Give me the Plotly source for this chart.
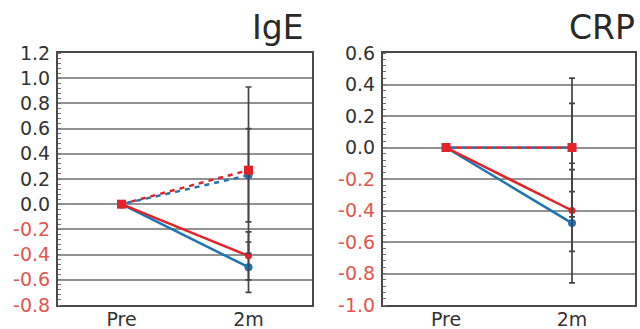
import plotly.graph_objects as go

categories = ["Pre", "2m"]

# IgE panel
ige_solid_red = [0.0, -0.41]
ige_solid_red_err = [None, 0.19]
ige_solid_blue = [0.0, -0.50]
ige_solid_blue_err = [None, 0.20]
ige_dash_red = [0.0, 0.27]
ige_dash_red_err = [None, 0.66]
ige_dash_blue = [0.0, 0.23]
ige_dash_blue_err = [None, 0.37]
ige_ticks = [1.2, 1.0, 0.8, 0.6, 0.4, 0.2, 0.0, -0.2, -0.4, -0.6, -0.8]

# CRP panel
crp_solid_red = [0.0, -0.40]
crp_solid_red_err = [None, 0.26]
crp_solid_blue = [0.0, -0.48]
crp_solid_blue_err = [None, 0.38]
crp_dash_red = [0.0, 0.0]
crp_dash_red_err = [None, 0.44]
crp_dash_blue = [0.0, 0.0]
crp_dash_blue_err = [None, 0.28]
crp_ticks = [0.6, 0.4, 0.2, 0.0, -0.2, -0.4, -0.6, -0.8, -1.0]

RED = "#e2232a"
BLUE = "#1f74b3"
GRAY_TXT = "#333333"
NEG_TXT = "#e3564f"
GRID = "#929292"
FRAME = "#4a4a4a"
FONT = "DejaVu Sans, Liberation Sans, Arial"

fig = go.Figure()


def add_series(y, err, color, dash, symbol, size, xa, ya):
    fig.add_trace(go.Scatter(
        x=categories, y=y, mode="lines+markers",
        line=dict(color=color, width=2.5, dash=dash),
        marker=dict(color=color, symbol=symbol, size=size),
        error_y=dict(type="data", array=err, visible=True, color="#444444",
                     thickness=1.7, width=3),
        xaxis=xa, yaxis=ya, showlegend=False, cliponaxis=False,
    ))


for (sb, sbe, db, dbe, sr, sre, dr, dre, xa, ya) in [
    (ige_solid_blue, ige_solid_blue_err, ige_dash_blue, ige_dash_blue_err,
     ige_solid_red, ige_solid_red_err, ige_dash_red, ige_dash_red_err, "x", "y"),
    (crp_solid_blue, crp_solid_blue_err, crp_dash_blue, crp_dash_blue_err,
     crp_solid_red, crp_solid_red_err, crp_dash_red, crp_dash_red_err, "x2", "y2"),
]:
    add_series(sb, sbe, BLUE, "solid", "circle", 8, xa, ya)
    add_series(db, dbe, BLUE, "0px,5px,5px,0px", "circle", 8, xa, ya)
    add_series(sr, sre, RED, "solid", "circle", 7, xa, ya)
    add_series(dr, dre, RED, "5px,5px", "square", 9, xa, ya)


def ticktext(vals):
    out = []
    for v in vals:
        s = f"{v:.1f}"
        if v < 0:
            out.append(f'<span style="color:{NEG_TXT}">{s}</span>')
        else:
            out.append(s)
    return out


def yaxis(vals, rng, domain, anchor):
    return dict(
        range=rng, domain=domain, anchor=anchor, tickmode="array", tickvals=vals,
        ticktext=ticktext(vals), showgrid=True, gridcolor=GRID, gridwidth=2,
        zeroline=False, showline=True, linecolor=FRAME, linewidth=2, mirror=True,
        ticks="", automargin=False, ticklabelstandoff=2,
        tickfont=dict(family=FONT, size=19, color=GRAY_TXT),
        minor=dict(ticks="inside", dtick=0.04, tick0=0, ticklen=3,
                   tickcolor="#777777", tickwidth=1, showgrid=False),
    )


def xaxis(domain, anchor):
    return dict(
        type="category", range=[-0.5, 1.5], domain=domain, anchor=anchor,
        showgrid=False, zeroline=False, showline=True, linecolor=FRAME,
        linewidth=2, mirror=True, ticks="", automargin=False,
        ticklabelstandoff=-4,
        tickfont=dict(family=FONT, size=19, color=GRAY_TXT),
    )


ydom = [1 - 305 / 329, 1 - 53 / 329]
fig.update_layout(
    width=640, height=329, margin=dict(l=0, r=0, t=0, b=0),
    paper_bgcolor="white", plot_bgcolor="white",
    xaxis=xaxis([58 / 640, 312 / 640], "y"),
    yaxis=yaxis(ige_ticks, [-0.8, 1.2], ydom, "x"),
    xaxis2=xaxis([383 / 640, 635 / 640], "y2"),
    yaxis2=yaxis(crp_ticks, [-1.0, 0.6], ydom, "x2"),
    annotations=[
        dict(text="IgE", x=306 / 640, y=1 - 27 / 329, xref="paper", yref="paper",
             xanchor="right", yanchor="middle", showarrow=False,
             font=dict(family=FONT, size=33, color="#2a2a2a")),
        dict(text="CRP", x=637 / 640, y=1 - 27 / 329, xref="paper", yref="paper",
             xanchor="right", yanchor="middle", showarrow=False,
             font=dict(family=FONT, size=33, color="#2a2a2a")),
    ],
)

fig.write_html("out.html", config={"displayModeBar": False},
               post_script="document.body.style.margin='0';document.body.style.overflow='hidden';")
